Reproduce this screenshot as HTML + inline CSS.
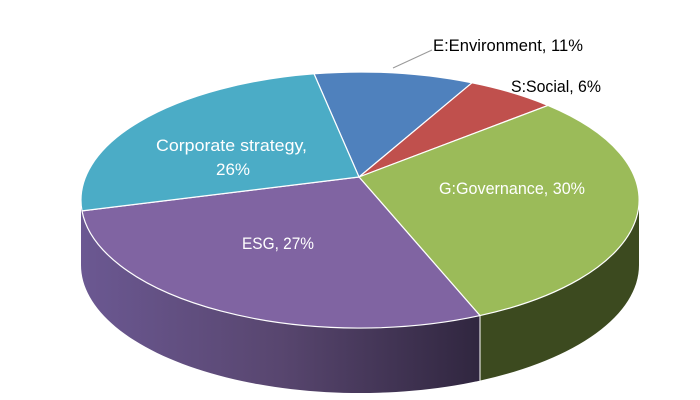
<!DOCTYPE html>
<html><head><meta charset="utf-8"><style>
html,body{margin:0;padding:0;background:#fff;}
svg{display:block;}
text{font-family:"Liberation Sans",sans-serif;font-size:17px;}
</style></head><body>
<svg width="700" height="400" viewBox="0 0 700 400" xmlns="http://www.w3.org/2000/svg">
<defs>
<linearGradient id="pg" x1="81" y1="0" x2="480" y2="0" gradientUnits="userSpaceOnUse">
<stop offset="0" stop-color="#6b5892"/><stop offset="0.5" stop-color="#58466f"/><stop offset="1" stop-color="#30263f"/>
</linearGradient>
</defs>
<path d="M81,200 A279,128 0 0 0 480,315.6 L480,380.6 A279,128 0 0 1 81,265 Z" fill="url(#pg)"/>
<path d="M480,315.6 A279,128 0 0 0 639,200 L639,265 A279,128 0 0 1 480,380.6 Z" fill="#3c4a1f"/>
<line x1="480" y1="315.6" x2="480" y2="380.6" stroke="#fff" stroke-width="1"/>
<g stroke="#fff" stroke-width="1.2" stroke-linejoin="round">
<path d="M359,177 L314,73.8 A279,128 0 0 1 472,82.8 Z" fill="#4f81bd"/>
<path d="M359,177 L472,82.8 A279,128 0 0 1 548,105.4 Z" fill="#c0504d"/>
<path d="M359,177 L548,105.4 A279,128 0 0 1 480,315.6 Z" fill="#9bbb59"/>
<path d="M359,177 L480,315.6 A279,128 0 0 1 82,210.9 Z" fill="#8064a2"/>
<path d="M359,177 L82,210.9 A279,128 0 0 1 314,73.8 Z" fill="#4bacc6"/>
</g>
<line x1="393" y1="68" x2="432" y2="50" stroke="#999" stroke-width="1"/>
<text x="433" y="51" fill="#000" textLength="150" lengthAdjust="spacingAndGlyphs">E:Environment, 11%</text>
<text x="511" y="92" fill="#000" textLength="90" lengthAdjust="spacingAndGlyphs">S:Social, 6%</text>
<text x="156" y="151" fill="#fff" textLength="151" lengthAdjust="spacingAndGlyphs">Corporate strategy,</text>
<text x="233" y="175" fill="#fff" text-anchor="middle">26%</text>
<text x="439" y="194" fill="#fff" textLength="146" lengthAdjust="spacingAndGlyphs">G:Governance, 30%</text>
<text x="242" y="249" fill="#fff" textLength="72" lengthAdjust="spacingAndGlyphs">ESG, 27%</text>
</svg>
</body></html>
